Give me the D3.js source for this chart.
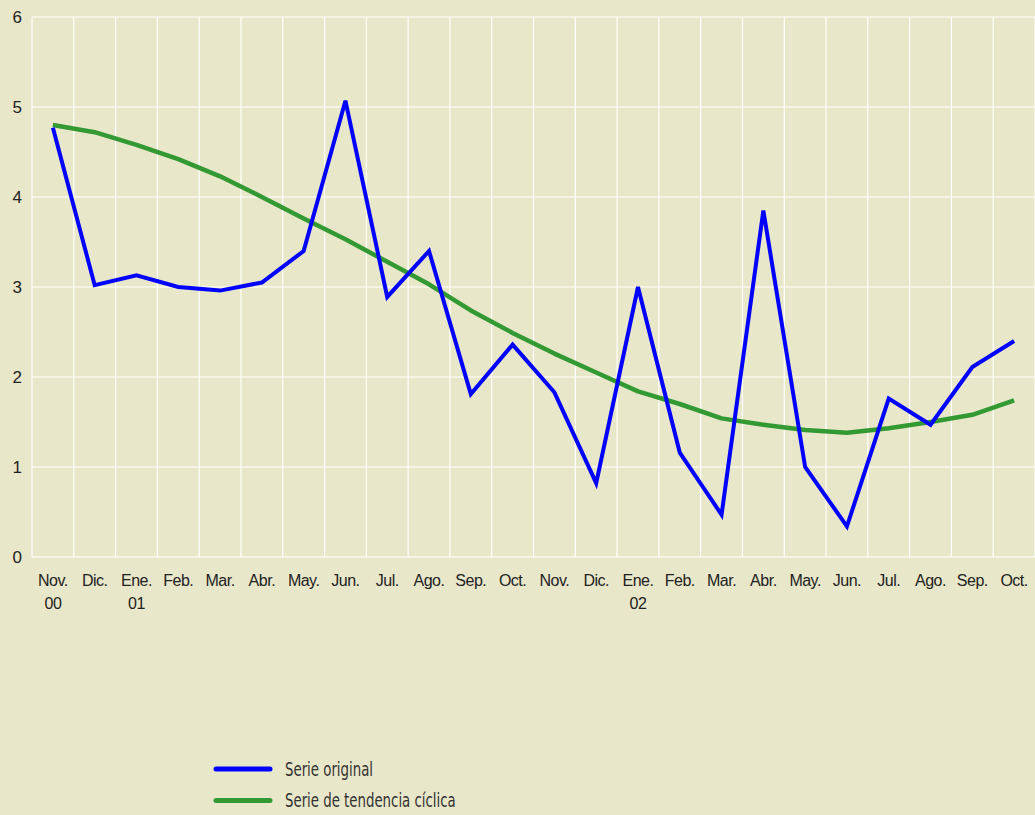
<!DOCTYPE html>
<html>
<head>
<meta charset="utf-8">
<script src="https://cdn.jsdelivr.net/npm/d3@7"></script>
<style>
  html, body { margin: 0; padding: 0; background: #e9e7c9; }
  svg { display: block; }
</style>
</head>
<body>
<svg id="chart" width="1035" height="815"></svg>
<script>
var months = ["Nov.", "Dic.", "Ene.", "Feb.", "Mar.", "Abr.", "May.", "Jun.", "Jul.", "Ago.", "Sep.", "Oct.",
              "Nov.", "Dic.", "Ene.", "Feb.", "Mar.", "Abr.", "May.", "Jun.", "Jul.", "Ago.", "Sep.", "Oct."];
var years = ["00", "", "01", "", "", "", "", "", "", "", "", "",
             "", "", "02", "", "", "", "", "", "", "", "", ""];
var original = [4.77, 3.02, 3.13, 3.00, 2.96, 3.05, 3.40, 5.07, 2.89, 3.40, 1.81, 2.36,
                1.83, 0.82, 3.00, 1.16, 0.47, 3.85, 1.00, 0.34, 1.76, 1.47, 2.11, 2.40];
var trend = [4.80, 4.72, 4.58, 4.42, 4.23, 4.00, 3.76, 3.53, 3.28, 3.03, 2.74, 2.49,
             2.26, 2.05, 1.84, 1.70, 1.54, 1.47, 1.41, 1.38, 1.43, 1.50, 1.58, 1.74];
var yTicks = [0, 1, 2, 3, 4, 5, 6];

var svg = d3.select("#chart"),
    plotL = 32, plotR = 1035, plotT = 17, plotB = 557;

var idx = d3.range(months.length);
var x = d3.scaleBand().domain(idx).range([plotL, plotR]);
var y = d3.scaleLinear().domain([0, 6]).range([plotB, plotT]);

// grid
var grid = svg.append("g").attr("stroke", "#ffffff").attr("stroke-width", 1.2);
grid.selectAll("line.v").data(idx.concat([months.length])).enter().append("line")
  .attr("x1", function (d) { return d < months.length ? x(d) : plotR; })
  .attr("x2", function (d) { return d < months.length ? x(d) : plotR; })
  .attr("y1", plotT).attr("y2", plotB);
grid.selectAll("line.h").data(yTicks).enter().append("line")
  .attr("x1", plotL).attr("x2", plotR)
  .attr("y1", function (d) { return y(d); })
  .attr("y2", function (d) { return y(d); });

// y axis labels
svg.append("g").selectAll("text").data(yTicks).enter().append("text")
  .attr("x", 22).attr("y", function (d) { return y(d); })
  .attr("dy", "0.36em")
  .attr("text-anchor", "end")
  .attr("font-family", "Liberation Sans, Arial, sans-serif")
  .attr("font-size", 17)
  .attr("fill", "#222")
  .text(function (d) { return d; });

// x axis labels
var xl = svg.append("g")
  .attr("font-family", "Liberation Sans, Arial, sans-serif")
  .attr("font-size", 16)
  .attr("letter-spacing", "-0.5")
  .attr("fill", "#222")
  .attr("text-anchor", "middle");
xl.selectAll("text.m").data(idx).enter().append("text")
  .attr("x", function (d) { return x(d) + x.bandwidth() / 2; })
  .attr("y", 586)
  .text(function (d) { return months[d]; });
xl.selectAll("text.yr").data(idx.filter(function (d) { return years[d]; })).enter().append("text")
  .attr("x", function (d) { return x(d) + x.bandwidth() / 2; })
  .attr("y", 609)
  .text(function (d) { return years[d]; });

// lines
var line = d3.line()
  .x(function (d, i) { return x(i) + x.bandwidth() / 2; })
  .y(function (d) { return y(d); });

svg.append("path").datum(trend)
  .attr("d", line).attr("fill", "none")
  .attr("stroke", "#339933").attr("stroke-width", 4.5)
  .attr("stroke-linejoin", "round");

svg.append("path").datum(original)
  .attr("d", line).attr("fill", "none")
  .attr("stroke", "#0000ff").attr("stroke-width", 4)
  .attr("stroke-linejoin", "miter");

// legend
var legend = [
  { label: "Serie original", color: "#0000ff", y: 769 },
  { label: "Serie de tendencia cíclica", color: "#339933", y: 800.5 }
];
var lg = svg.append("g").selectAll("g").data(legend).enter().append("g");
lg.append("line")
  .attr("x1", 216).attr("x2", 270)
  .attr("y1", function (d) { return d.y; }).attr("y2", function (d) { return d.y; })
  .attr("stroke", function (d) { return d.color; })
  .attr("stroke-width", 5).attr("stroke-linecap", "round");
lg.append("text")
  .attr("x", 285).attr("y", function (d) { return d.y + 7; })
  .attr("font-family", "DejaVu Sans Condensed, DejaVu Sans, sans-serif")
  .attr("font-stretch", "condensed")
  .attr("font-size", 19)
  .attr("fill", "#333")
  .attr("transform", function (d) { return "translate(285," + (d.y + 7) + ") scale(0.78,1) translate(-285," + (-(d.y + 7)) + ")"; })
  .text(function (d) { return d.label; });
</script>
</body>
</html>
